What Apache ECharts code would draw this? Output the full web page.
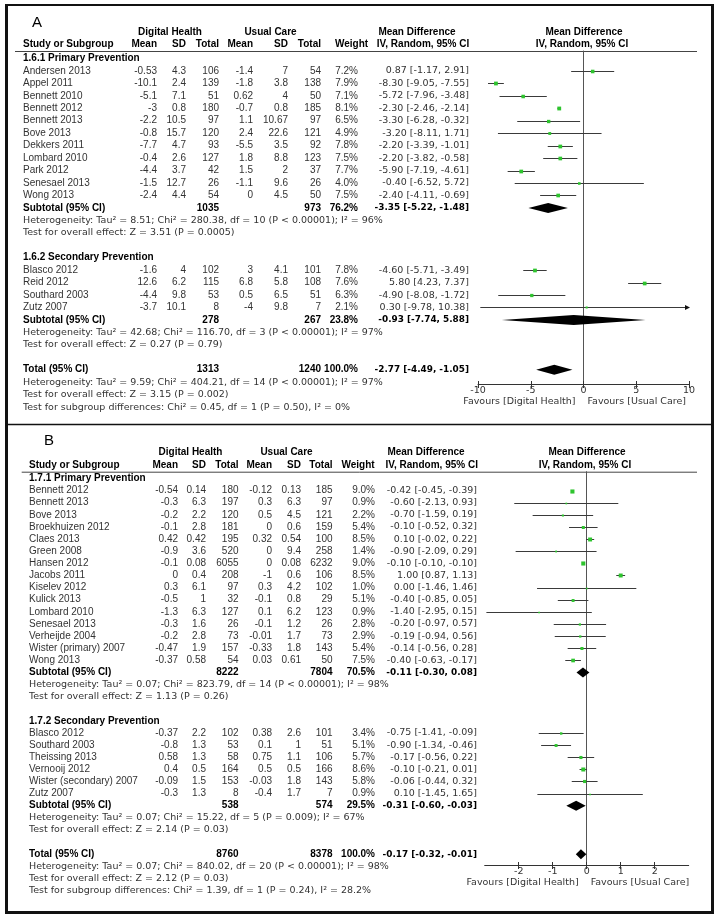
<!DOCTYPE html>
<html><head><meta charset="utf-8">
<script src="https://cdn.jsdelivr.net/npm/echarts@6/dist/echarts.min.js"></script>
<style>html,body{margin:0;padding:0;background:#fff}#c{width:721px;height:920px}</style>
</head><body><div id="c"></div>
<script>
// ---------------- DATA: Panel A ----------------
const a1Title = "1.6.1 Primary Prevention";
const a1Studies = ["Andersen 2013","Appel 2011","Bennett 2010","Bennett 2012","Bennett 2013","Bove 2013","Dekkers 2011","Lombard 2010","Park 2012","Senesael 2013","Wong 2013"];
const a1DhMean = [-0.53,-10.1,-5.1,-3,-2.2,-0.8,-7.7,-0.4,-4.4,-1.5,-2.4];
const a1DhSD = [4.3,2.4,7.1,0.8,10.5,15.7,4.7,2.6,3.7,12.7,4.4];
const a1DhN = [106,139,51,180,97,120,93,127,42,26,54];
const a1UcMean = [-1.4,-1.8,0.62,-0.7,1.1,2.4,-5.5,1.8,1.5,-1.1,0];
const a1UcSD = [7,3.8,4,0.8,10.67,22.6,3.5,8.8,2,9.6,4.5];
const a1UcN = [54,138,50,185,97,121,92,123,37,26,50];
const a1Weight = [7.2,7.9,7.1,8.1,6.5,4.9,7.8,7.5,7.7,4.0,7.5];
const a1MD = [0.87,-8.30,-5.72,-2.30,-3.30,-3.20,-2.20,-2.20,-5.90,-0.40,-2.40];
const a1Lo = [-1.17,-9.05,-7.96,-2.46,-6.28,-8.11,-3.39,-3.82,-7.19,-6.52,-4.11];
const a1Hi = [2.91,-7.55,-3.48,-2.14,-0.32,1.71,-1.01,-0.58,-4.61,5.72,-0.69];
const a1SubN = [1035, 973];
const a1SubWeight = 76.2;
const a1SubEffect = [-3.35, -5.22, -1.48];
const a1Het = "Heterogeneity: Tau\u00B2 = 8.51; Chi\u00B2 = 280.38, df = 10 (P < 0.00001); I\u00B2 = 96%";
const a1Test = "Test for overall effect: Z = 3.51 (P = 0.0005)";

const a2Title = "1.6.2 Secondary Prevention";
const a2Studies = ["Blasco 2012","Reid 2012","Southard 2003","Zutz 2007"];
const a2DhMean = [-1.6,12.6,-4.4,-3.7];
const a2DhSD = [4,6.2,9.8,10.1];
const a2DhN = [102,115,53,8];
const a2UcMean = [3,6.8,0.5,-4];
const a2UcSD = [4.1,5.8,6.5,9.8];
const a2UcN = [101,108,51,7];
const a2Weight = [7.8,7.6,6.3,2.1];
const a2MD = [-4.60,5.80,-4.90,0.30];
const a2Lo = [-5.71,4.23,-8.08,-9.78];
const a2Hi = [-3.49,7.37,-1.72,10.38];
const a2SubN = [278, 267];
const a2SubWeight = 23.8;
const a2SubEffect = [-0.93, -7.74, 5.88];
const a2Het = "Heterogeneity: Tau\u00B2 = 42.68; Chi\u00B2 = 116.70, df = 3 (P < 0.00001); I\u00B2 = 97%";
const a2Test = "Test for overall effect: Z = 0.27 (P = 0.79)";

const aTotN = [1313, 1240];
const aTotWeight = 100.0;
const aTotEffect = [-2.77, -4.49, -1.05];
const aTotLines = [
  "Heterogeneity: Tau\u00B2 = 9.59; Chi\u00B2 = 404.21, df = 14 (P < 0.00001); I\u00B2 = 97%",
  "Test for overall effect: Z = 3.15 (P = 0.002)",
  "Test for subgroup differences: Chi\u00B2 = 0.45, df = 1 (P = 0.50), I\u00B2 = 0%"
];
const aTicks = [-10,-5,0,5,10];

// ---------------- DATA: Panel B ----------------
const b1Title = "1.7.1 Primary Prevention";
const b1Studies = ["Bennett 2012","Bennett 2013","Bove 2013","Broekhuizen 2012","Claes 2013","Green 2008","Hansen 2012","Jacobs 2011","Kiselev 2012","Kulick 2013","Lombard 2010","Senesael 2013","Verheijde 2004","Wister (primary) 2007","Wong 2013"];
const b1DhMean = [-0.54,-0.3,-0.2,-0.1,0.42,-0.9,-0.1,0,0.3,-0.5,-1.3,-0.3,-0.2,-0.47,-0.37];
const b1DhSD = [0.14,6.3,2.2,2.8,0.42,3.6,0.08,0.4,6.1,1,6.3,1.6,2.8,1.9,0.58];
const b1DhN = [180,197,120,181,195,520,6055,208,97,32,127,26,73,157,54];
const b1UcMean = [-0.12,0.3,0.5,0,0.32,0,0,-1,0.3,-0.1,0.1,-0.1,-0.01,-0.33,0.03];
const b1UcSD = [0.13,6.3,4.5,0.6,0.54,9.4,0.08,0.6,4.2,0.8,6.2,1.2,1.7,1.8,0.61];
const b1UcN = [185,97,121,159,100,258,6232,106,102,29,123,26,73,143,50];
const b1Weight = [9.0,0.9,2.2,5.4,8.5,1.4,9.0,8.5,1.0,5.1,0.9,2.8,2.9,5.4,7.5];
const b1MD = [-0.42,-0.60,-0.70,-0.10,0.10,-0.90,-0.10,1.00,0.00,-0.40,-1.40,-0.20,-0.19,-0.14,-0.40];
const b1Lo = [-0.45,-2.13,-1.59,-0.52,-0.02,-2.09,-0.10,0.87,-1.46,-0.85,-2.95,-0.97,-0.94,-0.56,-0.63];
const b1Hi = [-0.39,0.93,0.19,0.32,0.22,0.29,-0.10,1.13,1.46,0.05,0.15,0.57,0.56,0.28,-0.17];
const b1SubN = [8222, 7804];
const b1SubWeight = 70.5;
const b1SubEffect = [-0.11, -0.30, 0.08];
const b1Het = "Heterogeneity: Tau\u00B2 = 0.07; Chi\u00B2 = 823.79, df = 14 (P < 0.00001); I\u00B2 = 98%";
const b1Test = "Test for overall effect: Z = 1.13 (P = 0.26)";

const b2Title = "1.7.2 Secondary Prevention";
const b2Studies = ["Blasco 2012","Southard 2003","Theissing 2013","Vernooij 2012","Wister (secondary) 2007","Zutz 2007"];
const b2DhMean = [-0.37,-0.8,0.58,0.4,-0.09,-0.3];
const b2DhSD = [2.2,1.3,1.3,0.5,1.5,1.3];
const b2DhN = [102,53,58,164,153,8];
const b2UcMean = [0.38,0.1,0.75,0.5,-0.03,-0.4];
const b2UcSD = [2.6,1,1.1,0.5,1.8,1.7];
const b2UcN = [101,51,106,166,143,7];
const b2Weight = [3.4,5.1,5.7,8.6,5.8,0.9];
const b2MD = [-0.75,-0.90,-0.17,-0.10,-0.06,0.10];
const b2Lo = [-1.41,-1.34,-0.56,-0.21,-0.44,-1.45];
const b2Hi = [-0.09,-0.46,0.22,0.01,0.32,1.65];
const b2SubN = [538, 574];
const b2SubWeight = 29.5;
const b2SubEffect = [-0.31, -0.60, -0.03];
const b2Het = "Heterogeneity: Tau\u00B2 = 0.07; Chi\u00B2 = 15.22, df = 5 (P = 0.009); I\u00B2 = 67%";
const b2Test = "Test for overall effect: Z = 2.14 (P = 0.03)";

const bTotN = [8760, 8378];
const bTotWeight = 100.0;
const bTotEffect = [-0.17, -0.32, -0.01];
const bTotLines = [
  "Heterogeneity: Tau\u00B2 = 0.07; Chi\u00B2 = 840.02, df = 20 (P < 0.00001); I\u00B2 = 98%",
  "Test for overall effect: Z = 2.12 (P = 0.03)",
  "Test for subgroup differences: Chi\u00B2 = 1.39, df = 1 (P = 0.24), I\u00B2 = 28.2%"
];
const bTicks = [-2,-1,0,1,2];

// ---------------- LAYOUT / STYLE ----------------
const FONT = "'Liberation Sans', Arial, sans-serif";
const FONT2 = "'DejaVu Sans', Verdana, sans-serif";
const FS = 10, FS2 = 9.5, FS2B = 8.9;
const TXT = '#333';
const GREEN = '#2ec42e';
const LAYOUT = [
  { grid:{left:478, right:32, top:51, bottom:536}, yRange:[-0.602, 26.145], xRange:[-10,10], ticks:aTicks,
    cols:{name:23, m1:157, s1:186, n1:219, m2:253, s2:288, n2:321, w:358, md:469},
    hdr:{y1:32.3, y2:44.3, dh:170, uc:270.5, w:351.5, md1:417, md2:423, pl1:584, pl2:582},
    letter:{t:'A', x:37, y:23}, rule:[15,697], axisY:384 },
  { grid:{left:484.7, right:32.3, top:471.7, bottom:55}, yRange:[-0.561, 31.89], xRange:[-3,3], ticks:bTicks,
    cols:{name:29, m1:178, s1:206, n1:238.5, m2:272, s2:301, n2:332.5, w:375, md:477},
    hdr:{y1:452.7, y2:465, dh:190.5, uc:286.5, w:358, md1:426, md2:431.7, pl1:587, pl2:585},
    letter:{t:'B', x:49, y:441}, rule:[21.7,697], axisY:865 }
];

function grp(title, st, dm, ds, dn, um, us, un, w, md, lo, hi, subN, subW, subE, het, test) {
  return {title, st, dm, ds, dn, um, us, un, w, md, lo, hi, subN, subW, subE, het, test};
}
const panels = [
  { groups:[
      grp(a1Title,a1Studies,a1DhMean,a1DhSD,a1DhN,a1UcMean,a1UcSD,a1UcN,a1Weight,a1MD,a1Lo,a1Hi,a1SubN,a1SubWeight,a1SubEffect,a1Het,a1Test),
      grp(a2Title,a2Studies,a2DhMean,a2DhSD,a2DhN,a2UcMean,a2UcSD,a2UcN,a2Weight,a2MD,a2Lo,a2Hi,a2SubN,a2SubWeight,a2SubEffect,a2Het,a2Test)],
    tot:{n:aTotN, w:aTotWeight, e:aTotEffect, lines:aTotLines} },
  { groups:[
      grp(b1Title,b1Studies,b1DhMean,b1DhSD,b1DhN,b1UcMean,b1UcSD,b1UcN,b1Weight,b1MD,b1Lo,b1Hi,b1SubN,b1SubWeight,b1SubEffect,b1Het,b1Test),
      grp(b2Title,b2Studies,b2DhMean,b2DhSD,b2DhN,b2UcMean,b2UcSD,b2UcN,b2Weight,b2MD,b2Lo,b2Hi,b2SubN,b2SubWeight,b2SubEffect,b2Het,b2Test)],
    tot:{n:bTotN, w:bTotWeight, e:bTotEffect, lines:bTotLines} }
];

// build row structure
panels.forEach(p => {
  p.ci = []; p.dia = []; p.rows = [];
  let r = 0;
  p.groups.forEach(g => {
    p.rows.push({r, kind:'title', g}); r++;
    g.st.forEach((s, j) => {
      p.rows.push({r, kind:'study', g, j});
      p.ci.push([g.lo[j], g.hi[j], r, g.md[j], g.w[j]]);
      r++;
    });
    p.rows.push({r, kind:'sub', g});
    p.dia.push([g.subE[1], g.subE[2], r, g.subE[0]]);
    p.rows.push({r:r+1, kind:'line', text:g.het});
    p.rows.push({r:r+2, kind:'line', text:g.test});
    r += 4;
  });
  p.rows.push({r, kind:'tot'});
  p.dia.push([p.tot.e[1], p.tot.e[2], r, p.tot.e[0]]);
  p.tot.lines.forEach((t, k) => p.rows.push({r:r+1+k, kind:'line', text:t}));
});

function ciRender(params, api) {
  const lo = api.value(0), hi = api.value(1), row = api.value(2), md = api.value(3), w = api.value(4);
  const cs = params.coordSys;
  const pLo = api.coord([lo, row]), pHi = api.coord([hi, row]), pM = api.coord([md, row]);
  const xL = cs.x, xR = cs.x + cs.width;
  const x0 = Math.max(pLo[0], xL), x1 = Math.min(pHi[0], xR);
  const y = Math.round(pM[1]) + 0.5;
  const ch = [{type:'line', shape:{x1:x0, y1:y, x2:x1, y2:y}, style:{stroke:'#3a3a3a', lineWidth:1}}];
  if (pHi[0] > xR) ch.push({type:'polygon', shape:{points:[[xR+1,y],[xR-4,y-2.5],[xR-4,y+2.5]]}, style:{fill:'#111'}});
  if (pLo[0] < xL) ch.push({type:'polygon', shape:{points:[[xL-1,y],[xL+4,y-2.5],[xL+4,y+2.5]]}, style:{fill:'#111'}});
  const s = 1.4 + w * 0.3;
  ch.push({type:'rect', shape:{x:pM[0]-s/2, y:y-s/2, width:s, height:s}, style:{fill:GREEN}});
  return {type:'group', children:ch};
}
function diaRender(params, api) {
  const row = api.value(2);
  const a = api.coord([api.value(0), row]), b = api.coord([api.value(1), row]), m = api.coord([api.value(3), row]);
  const h = 5;
  return {type:'polygon', shape:{points:[[a[0],m[1]],[m[0],m[1]-h],[b[0],m[1]],[m[0],m[1]+h]]}, style:{fill:'#000'}};
}

const chart = echarts.init(document.getElementById('c'), null, {renderer:'canvas', width:721, height:920});
const grids = [], xAxes = [], yAxes = [], series = [];
LAYOUT.forEach((L, k) => {
  grids.push(Object.assign({containLabel:false}, L.grid));
  xAxes.push({gridIndex:k, type:'value', position:'bottom', min:L.xRange[0], max:L.xRange[1], interval:1,
    axisLine:{onZero:false, lineStyle:{color:'#333', width:1}},
    axisTick:{show:true, length:4, customValues:L.ticks, lineStyle:{color:'#333'}},
    axisLabel:{show:true, margin:2, customValues:L.ticks, fontSize:FS2, color:TXT, fontFamily:FONT2},
    splitLine:{show:false}});
  yAxes.push({gridIndex:k, type:'value', min:L.yRange[0], max:L.yRange[1], inverse:true,
    axisLine:{show:true, onZero:true, lineStyle:{color:'#555', width:1}},
    axisTick:{show:false}, axisLabel:{show:false}, splitLine:{show:false}});
  series.push({type:'custom', xAxisIndex:k, yAxisIndex:k, renderItem:ciRender, data:panels[k].ci, clip:false, silent:true, z:3, encode:{x:[0,1], y:2}});
  series.push({type:'custom', xAxisIndex:k, yAxisIndex:k, renderItem:diaRender, data:panels[k].dia, clip:false, silent:true, z:3, encode:{x:[0,1], y:2}});
});
// inward tick duplicates (ticks cross the axis line)
LAYOUT.forEach((L, k) => {
  xAxes.push({gridIndex:k, type:'value', position:'bottom', min:L.xRange[0], max:L.xRange[1], interval:1,
    axisLine:{show:false, onZero:false}, axisTick:{show:true, inside:true, length:3, customValues:L.ticks, lineStyle:{color:'#333'}},
    axisLabel:{show:false}, splitLine:{show:false}});
});

chart.setOption({animation:false, backgroundColor:'#fff', grid:grids, xAxis:xAxes, yAxis:yAxes, series});

// ---------------- TEXT (positioned through the plot axes) ----------------
const els = [];
function T(text, x, y, align, bold, alt, size, color) {
  els.push({type:'text', x, y, silent:true, z:10, style:{text:String(text), fill: color || (bold ? '#000' : TXT),
    fontSize: size || (alt ? (bold ? FS2B : FS2) : FS), fontFamily: alt ? FONT2 : FONT, fontWeight: bold ? 'bold' : 'normal',
    align, verticalAlign:'middle', textAlign:align, textVerticalAlign:'middle'}});
}
const f2 = v => v.toFixed(2);
const eff = (m, l, h) => f2(m) + ' [' + f2(l) + ', ' + f2(h) + ']';
const pct = v => v.toFixed(1) + '%';

LAYOUT.forEach((L, k) => {
  const p = panels[k], c = L.cols, H = L.hdr;
  const Y = i => chart.convertToPixel({gridIndex:k}, [0, i])[1];
  const X = v => chart.convertToPixel({gridIndex:k}, [v, 0])[0];
  T(L.letter.t, L.letter.x, L.letter.y, 'center', false, false, 15, '#000');
  T('Digital Health', H.dh, H.y1, 'center', true);
  T('Usual Care', H.uc, H.y1, 'center', true);
  T('Mean Difference', H.md1, H.y1, 'center', true);
  T('Mean Difference', H.pl1, H.y1, 'center', true);
  T('Study or Subgroup', c.name, H.y2, 'left', true);
  T('Mean', c.m1, H.y2, 'right', true);
  T('SD', c.s1, H.y2, 'right', true);
  T('Total', c.n1, H.y2, 'right', true);
  T('Mean', c.m2, H.y2, 'right', true);
  T('SD', c.s2, H.y2, 'right', true);
  T('Total', c.n2, H.y2, 'right', true);
  T('Weight', H.w, H.y2, 'center', true);
  T('IV, Random, 95% CI', H.md2, H.y2, 'center', true);
  T('IV, Random, 95% CI', H.pl2, H.y2, 'center', true);
  els.push({type:'line', silent:true, shape:{x1:L.rule[0], y1:L.grid.top + 0.5, x2:L.rule[1], y2:L.grid.top + 0.5}, style:{stroke:'#444', lineWidth:1}});

  p.rows.forEach(row => {
    const y = Y(row.r);
    const g = row.g;
    if (row.kind === 'title') T(g.title, c.name, y, 'left', true);
    else if (row.kind === 'study') {
      const j = row.j;
      T(g.st[j], c.name, y, 'left');
      T(g.dm[j], c.m1, y, 'right'); T(g.ds[j], c.s1, y, 'right'); T(g.dn[j], c.n1, y, 'right');
      T(g.um[j], c.m2, y, 'right'); T(g.us[j], c.s2, y, 'right'); T(g.un[j], c.n2, y, 'right');
      T(pct(g.w[j]), c.w, y, 'right');
      T(eff(g.md[j], g.lo[j], g.hi[j]), c.md, y, 'right', false, true);
    } else if (row.kind === 'sub') {
      T('Subtotal (95% CI)', c.name, y, 'left', true);
      T(g.subN[0], c.n1, y, 'right', true); T(g.subN[1], c.n2, y, 'right', true);
      T(pct(g.subW), c.w, y, 'right', true);
      T(eff(g.subE[0], g.subE[1], g.subE[2]), c.md, y, 'right', true, true);
    } else if (row.kind === 'tot') {
      T('Total (95% CI)', c.name, y, 'left', true);
      T(p.tot.n[0], c.n1, y, 'right', true); T(p.tot.n[1], c.n2, y, 'right', true);
      T(pct(p.tot.w), c.w, y, 'right', true);
      T(eff(p.tot.e[0], p.tot.e[1], p.tot.e[2]), c.md, y, 'right', true, true);
    } else if (row.kind === 'line') T(row.text, c.name, y, 'left', false, true);
  });
  const x0 = X(0);
  T('Favours [Digital Health]', x0 - 8, L.axisY + 17.5, 'right', false, true);
  T('Favours [Usual Care]', x0 + 4, L.axisY + 17.5, 'left', false, true);
});

// frame
els.push({type:'rect', silent:true, shape:{x:6, y:5, width:707, height:908}, style:{fill:'none', stroke:'#111', lineWidth:2}});
els.push({type:'line', silent:true, shape:{x1:6.5, y1:5, x2:6.5, y2:913}, style:{stroke:'#111', lineWidth:3}});
els.push({type:'line', silent:true, shape:{x1:712.5, y1:5, x2:712.5, y2:913}, style:{stroke:'#111', lineWidth:3}});
els.push({type:'line', silent:true, shape:{x1:6, y1:912.5, x2:713, y2:912.5}, style:{stroke:'#111', lineWidth:3}});
els.push({type:'line', silent:true, shape:{x1:6, y1:424.5, x2:713, y2:424.5}, style:{stroke:'#111', lineWidth:1.5}});

chart.setOption({graphic:{elements:els}});
</script></body></html>
